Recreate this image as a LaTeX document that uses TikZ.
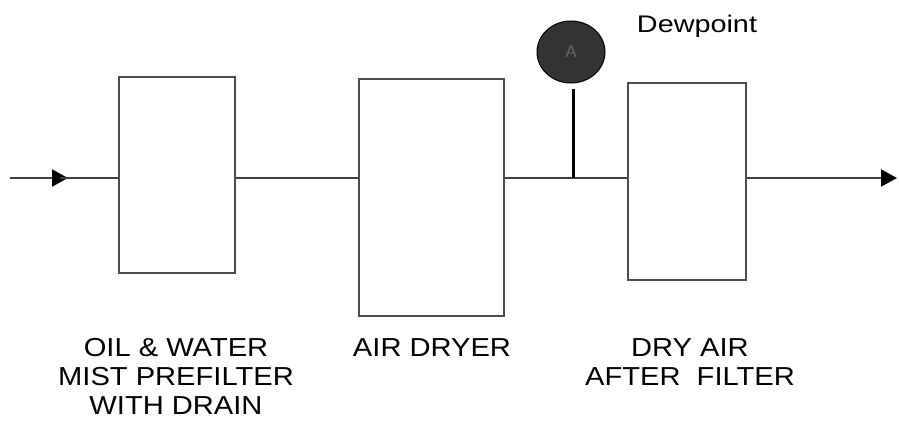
\documentclass[tikz,border=0pt]{standalone}
\usepackage{fontspec}
\setmainfont{Liberation Sans}
\newfontfamily\lblfont[FakeStretch=1.12]{Liberation Sans}
\newfontfamily\dpfont[FakeStretch=1.2]{Liberation Sans}
\usetikzlibrary{arrows.meta,shapes.geometric}
\begin{document}
\begin{tikzpicture}[x=1pt,y=-1pt,
  unit/.style={draw=black!70,line width=1.2pt,fill=white,inner sep=0pt},
  pipe/.style={draw=black!75,line width=2pt},
  lbl/.style={font=\lblfont\fontsize{26}{29}\selectfont,align=center,anchor=north,inner sep=0pt},
  tip/.style={-{Triangle[length=16pt,width=17pt,color=black,fill=black]}}]
\useasboundingbox (0,0) rectangle (899,423);
\node[unit,minimum width=116pt,minimum height=196pt] (f1) at (177,175) {};
\node[unit,minimum width=145pt,minimum height=237pt] (dr) at (431.5,197.5) {};
\node[unit,minimum width=118pt,minimum height=197pt] (f2) at (687,181.5) {};
\coordinate (in) at (10,178);
\coordinate (mid) at (60,178);
\coordinate (out) at (897,178);
\coordinate (tap) at (573,178);
\draw[pipe,tip] (in) -- ([xshift=8pt]mid);
\draw[pipe] (mid) -- (f1.west |- in);
\draw[pipe] (f1.east |- in) -- (dr.west |- in);
\draw[pipe] (dr.east |- in) -- (f2.west |- in);
\draw[pipe,tip] (f2.east |- in) -- (out);
\node[draw=black,line width=1pt,fill=black!80,ellipse,minimum width=68pt,minimum height=62pt,inner sep=0pt,font=\fontsize{17}{20}\selectfont,text=black!60] (A) at (571,52) {A};
\draw[line width=3pt] (tap |- 0,89) -- (tap);
\node[font=\dpfont\fontsize{24}{28}\selectfont,anchor=base] (dp) at (697,32) {Dewpoint};
\node[lbl] (l1) at (176,338) {OIL \& WATER\\MIST PREFILTER\\WITH DRAIN};
\node[lbl] (l2) at (432,338) {AIR DRYER};
\node[lbl] (l3) at (690,338) {DRY AIR\\AFTER\ \ FILTER};
\end{tikzpicture}
\end{document}
